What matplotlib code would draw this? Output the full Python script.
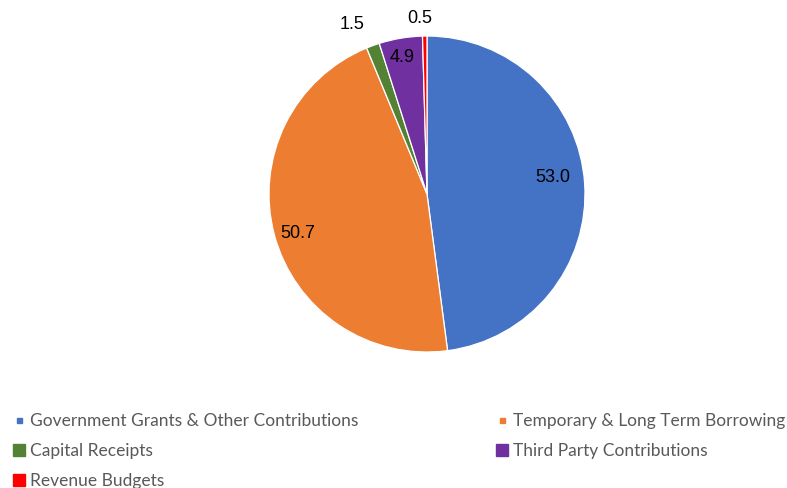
import matplotlib
matplotlib.use("Agg")
import matplotlib.pyplot as plt
import numpy as np

categories = [
    "Government Grants & Other Contributions",
    "Temporary & Long Term Borrowing",
    "Capital Receipts",
    "Third Party Contributions",
    "Revenue Budgets",
]
values = [53.0, 50.7, 1.5, 4.9, 0.5]
colors = ["#4472C4", "#ED7D31", "#548235", "#7030A0", "#FF0000"]
# radial position of each value label (fraction of radius) plus a small nudge
label_r = [0.79, 0.86, 1.18, 0.87, 1.12]
label_nudge = [(0.01, 0.06), (0.01, -0.02), (-0.07, -0.03), (-0.01, 0.015), (-0.03, 0.0)]

fig = plt.figure(figsize=(7.87, 4.89), dpi=100)
ax = fig.add_axes([0.5426 - 0.2008, 0.6012 - 0.3231, 0.4015, 0.6462])
wedges, _ = ax.pie(values, colors=colors, startangle=90, counterclock=False,
                   wedgeprops=dict(edgecolor="white", linewidth=0.9))
ax.set_aspect("equal")
ax.set_xlim(-1, 1)
ax.set_ylim(-1, 1)

for w, v, r, (dx, dy) in zip(wedges, values, label_r, label_nudge):
    mid = np.deg2rad((w.theta1 + w.theta2) / 2)
    ax.text(r * np.cos(mid) + dx, r * np.sin(mid) + dy, f"{v:.1f}", ha="center", va="center",
            fontsize=13, family="Liberation Sans", color="black")

# legend laid out in two columns under the pie
legend_pos = [(0.038, 0.139), (0.652, 0.139), (0.038, 0.078), (0.652, 0.078), (0.038, 0.017)]
small = [True, True, False, False, False]
for (x, y), name, c, s in zip(legend_pos, categories, colors, small):
    if s:
        fig.patches.append(plt.Rectangle((x - 0.0165, y - 0.0065), 0.0065, 0.0105, color=c,
                                         transform=fig.transFigure))
    else:
        fig.patches.append(plt.Rectangle((x - 0.0215, y - 0.0125), 0.015, 0.025, color=c,
                                         transform=fig.transFigure))
    fig.text(x, y, name, ha="left", va="center", fontsize=12.5, family="Lato", color="#595959")

fig.savefig("out.png", dpi=100)
